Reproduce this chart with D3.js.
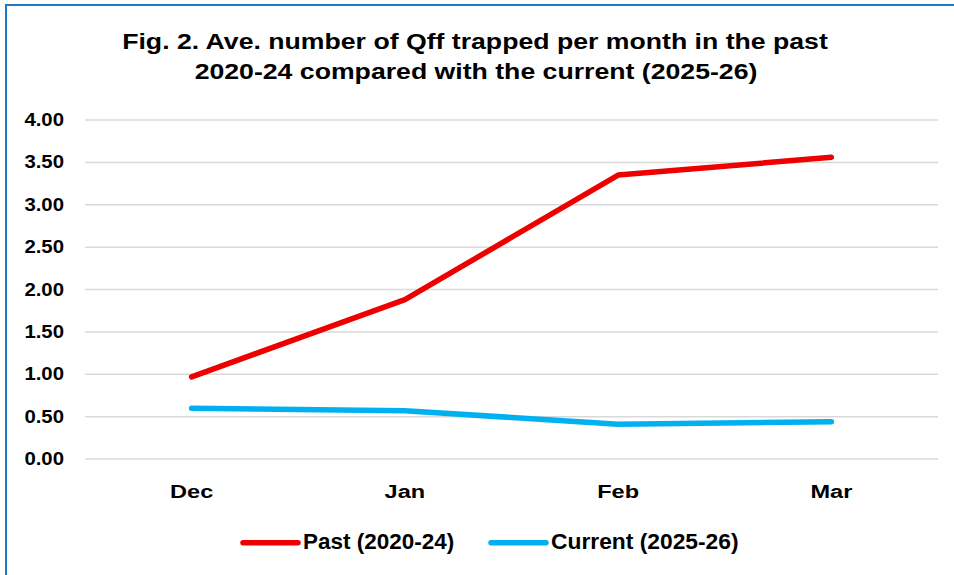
<!DOCTYPE html>
<html>
<head>
<meta charset="utf-8">
<script src="https://cdn.jsdelivr.net/npm/d3@7"></script>
<style>
  body { margin: 0; background: #fff; }
  text { font-family: "Liberation Sans", Arial, sans-serif; font-weight: bold; fill: #000; }
</style>
</head>
<body>
<script>
// data
var months = ["Dec", "Jan", "Feb", "Mar"];
var past = [0.97, 1.88, 3.35, 3.56];
var current = [0.60, 0.57, 0.41, 0.44];
var yTicks = [0, 0.5, 1, 1.5, 2, 2.5, 3, 3.5, 4];
var seriesNames = ["Past (2020-24)", "Current (2025-26)"];
var seriesColors = ["#ee0000", "#00b0f0"];

var W = 954, H = 575;
var svg = d3.select("body").append("svg")
    .attr("width", W).attr("height", H);

// chart frame (only left and top edges visible)
svg.append("rect")
    .attr("x", 6).attr("y", 5)
    .attr("width", W + 20).attr("height", H + 20)
    .attr("fill", "none")
    .attr("stroke", "#1f77c8")
    .attr("stroke-width", 2);

// helper: text stretched horizontally around its anchor
function putText(g, x0, y0, sx, size, anchor, str) {
    return g.append("text")
        .attr("transform", "translate(" + x0 + "," + y0 + ") scale(" + sx + ",1)")
        .attr("text-anchor", anchor)
        .style("font-size", size + "px")
        .text(str);
}

// title
putText(svg, 475, 48.5, 1.24, 21.5, "middle", "Fig. 2. Ave. number of Qff trapped per month in the past");
putText(svg, 476, 78.5, 1.24, 21.5, "middle", "2020-24 compared with the current (2025-26)");

var x = d3.scaleBand().domain(months).range([85, 938]);
var y = d3.scaleLinear().domain([0, 4]).range([459, 120]);

// gridlines
svg.append("g").selectAll("line").data(yTicks).join("line")
    .attr("x1", 85).attr("x2", 938)
    .attr("y1", d => y(d)).attr("y2", d => y(d))
    .attr("stroke", "#d9d9d9").attr("stroke-width", 1.5);

// y axis labels
var yl = svg.append("g");
yTicks.forEach(function(d) {
    putText(yl, 64, y(d) + 6, 1.1, 18.5, "end", d3.format(".2f")(d));
});

// x axis labels
var xl = svg.append("g");
months.forEach(function(m) {
    putText(xl, x(m) + x.bandwidth() / 2, 497.5, 1.26, 18.7, "middle", m);
});

var line = d3.line()
    .x((d, i) => x(months[i]) + x.bandwidth() / 2)
    .y(d => y(d));

[past, current].forEach(function(s, i) {
    svg.append("path")
        .datum(s)
        .attr("d", line)
        .attr("fill", "none")
        .attr("stroke", seriesColors[i])
        .attr("stroke-width", 5.5)
        .attr("stroke-linecap", "round")
        .attr("stroke-linejoin", "round");
});

// legend
var legX = [243, 491];
var legSx = [1.05, 1.066];
seriesNames.forEach(function(name, i) {
    var g = svg.append("g").attr("transform", "translate(" + legX[i] + ",0)");
    g.append("line")
        .attr("x1", 0).attr("x2", 55)
        .attr("y1", 542.7).attr("y2", 542.7)
        .attr("stroke", seriesColors[i])
        .attr("stroke-width", 5.5)
        .attr("stroke-linecap", "round");
    putText(g, 60, 549.3, legSx[i], 21.4, "start", name);
});
</script>
</body>
</html>
